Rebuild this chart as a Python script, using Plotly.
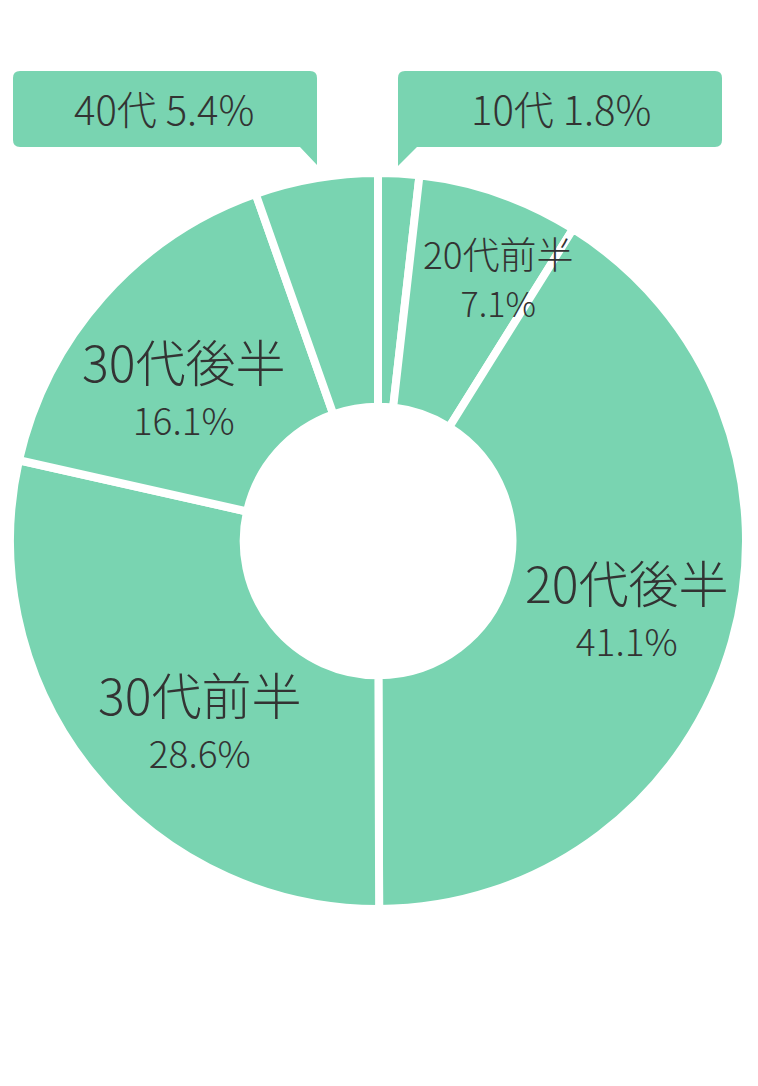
import plotly.graph_objects as go

# ── DATA ─────────────────────────────────────────────────────
labels = ['10代', '20代前半', '20代後半', '30代前半', '30代後半', '40代']
values = [1.8, 7.1, 41.1, 28.6, 16.1, 5.4]

# page body has an 8px margin, so the figure is drawn 8px in
OFF = 8
W, H = 758 - OFF, 1086 - OFF
GREEN = '#79D4B1'
TEXT = '#333333'
FONT = 'Noto Sans CJK JP'


def px(x, y):
    # screen pixel -> paper coords
    return (x - OFF) / W, 1 - (y - OFF) / H


def bubble(x0, y0, x1, y1, tail, r=7):
    # rounded box with a little pointer under one corner
    def P(x, y):
        a, b = px(x, y)
        return f'{a:.5f},{b:.5f}'
    tx0, tx1, ty = tail
    path = f'M {P(x0 + r, y0)} L {P(x1 - r, y0)} Q {P(x1, y0)} {P(x1, y0 + r)} '
    if tx1 == x1:
        # tail at bottom right
        path += f'L {P(x1, ty)} L {P(tx0, y1)} L {P(x0 + r, y1)} Q {P(x0, y1)} {P(x0, y1 - r)} '
    else:
        path += f'L {P(x1, y1 - r)} Q {P(x1, y1)} {P(x1 - r, y1)} L {P(tx1, y1)} L {P(x0, ty)} '
    path += f'L {P(x0, y0 + r)} Q {P(x0, y0)} {P(x0 + r, y0)} Z'
    return dict(type='path', path=path, xref='paper', yref='paper',
                fillcolor=GREEN, line=dict(width=0), layer='below')


cx, cy, R = 378, 541, 368
dx0, dy1 = px(cx - R, cy - R)
dx1, dy0 = px(cx + R, cy + R)

fig = go.Figure(go.Pie(
    labels=labels, values=values, sort=False, direction='clockwise',
    rotation=0, hole=0.365, textinfo='none', hoverinfo='label+percent',
    marker=dict(colors=[GREEN] * len(values), line=dict(color='white', width=8)),
    domain=dict(x=[dx0, dx1], y=[dy0, dy1]),
    showlegend=False,
))

# callout boxes for the two thin slices
shapes = [
    bubble(13, 71, 317, 147, (300, 317, 165)),
    bubble(398, 71, 722, 147, (398, 417, 166)),
]

ann = []


def add(x, y, text, size, weight=300):
    a, b = px(x, y)
    ann.append(dict(x=a, y=b, xref='paper', yref='paper', text=text,
                    showarrow=False, xanchor='center', yanchor='middle',
                    font=dict(family=FONT, size=size, color=TEXT, weight=weight)))


add(164, 108, f'{labels[5]} {values[5]}%', 40)
add(561, 108, f'{labels[0]} {values[0]}%', 40)

# in-slice labels: (x, y, name size, pct size, line size)
pos = {
    1: (499, 277, 37, 34, 37),
    2: (627, 606, 50, 37, 41),
    3: (200, 718, 50, 37, 41),
    4: (184, 385, 50, 37, 41),
}
for i, (x, y, sn, sp, sl) in pos.items():
    txt = (f"<span style='font-size:{sn}px'>{labels[i]}</span><br>"
           f"<span style='font-size:{sp}px'>{values[i]}%</span>")
    add(x, y, txt, sl)

fig.update_layout(
    width=W, height=H, margin=dict(l=0, r=0, t=0, b=0),
    paper_bgcolor='white', plot_bgcolor='white',
    shapes=shapes, annotations=ann,
)
fig.write_html('out.html')
